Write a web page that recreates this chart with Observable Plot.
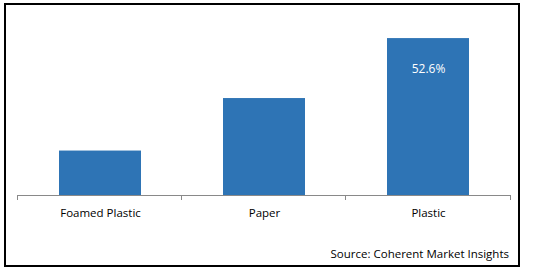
<!DOCTYPE html>
<html>
<head>
<meta charset="utf-8">
<script src="https://cdn.jsdelivr.net/npm/d3@7"></script>
<script src="https://cdn.jsdelivr.net/npm/@observablehq/plot@0.6"></script>
<style>
  html, body { margin: 0; padding: 0; background: #fff; }
  #wrap { position: relative; width: 534px; height: 271px; overflow: hidden; }
  #border { position: absolute; left: 4px; top: 3px; width: 516px; height: 264px; border: 2px solid #000; box-sizing: border-box; pointer-events: none; }
  #source { position: absolute; right: 25px; top: 246px; font: 11.5px "Open Sans", sans-serif; color: #000; white-space: nowrap; }
  svg { position: absolute; left: 0; top: 0; }
</style>
</head>
<body>
<div id="wrap">
  <div id="chart"></div>
  <div id="border"></div>
  <div id="source">Source: Coherent Market Insights</div>
</div>
<script>
const categories = ["Foamed Plastic", "Paper", "Plastic"];
const shares = [14.9, 32.5, 52.6];
const valueLabels = ["", "", "52.6%"];

const data = categories.map((c, i) => ({category: c, share: shares[i], label: valueLabels[i]}));

const boundaryTicks = (index, scales, values, dimensions) => {
  const {width, marginLeft, marginRight} = dimensions;
  const g = d3.create("svg:g");
  const n = categories.length;
  const y0 = scales.y(0);
  for (let i = 0; i <= n; i++) {
    const x = marginLeft + (width - marginLeft - marginRight) * i / n;
    g.append("line")
      .attr("x1", x).attr("x2", x)
      .attr("y1", y0).attr("y2", y0 + 5)
      .attr("stroke", "#898989").attr("stroke-width", 1)
      .attr("shape-rendering", "crispEdges");
  }
  return g.node();
};

const chart = Plot.plot({
  width: 534,
  height: 271,
  marginLeft: 17,
  marginRight: 24,
  marginTop: 16,
  marginBottom: 76,
  style: {fontFamily: "'Open Sans', sans-serif", fontSize: "11.5px", background: "transparent"},
  x: {domain: categories, paddingInner: 0.5, paddingOuter: 0.25, label: null},
  y: {domain: [0, 60], axis: null},
  marks: [
    Plot.barY(data, {x: "category", y: "share", fill: "#2E74B5"}),
    Plot.ruleY([0], {stroke: "#898989", strokeWidth: 1}),
    boundaryTicks,
    Plot.axisX({tickSize: 0, tickPadding: 13, fontSize: 11.5, fill: "#000", label: null}),
    Plot.text(data.filter(d => d.label), {x: "category", y: "share", text: "label", dy: 31, fill: "#fff", fontSize: 12})
  ]
});
document.getElementById("chart").appendChild(chart);
</script>
</body>
</html>
